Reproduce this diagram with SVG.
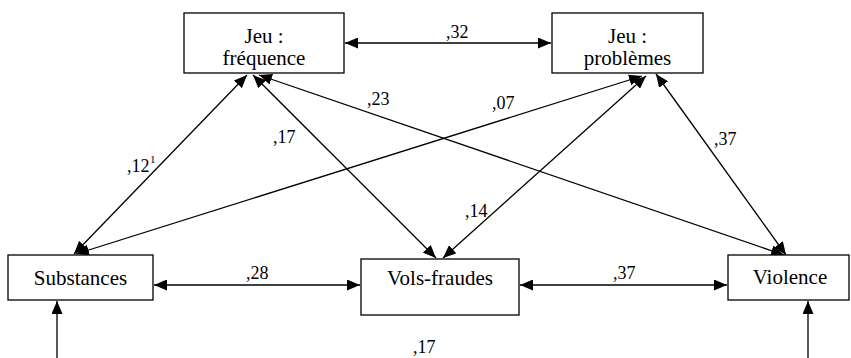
<svg xmlns="http://www.w3.org/2000/svg" width="851" height="358" viewBox="0 0 851 358">
<style>
rect.n{fill:#fff;stroke:#000;stroke-width:1.3}
text{font-family:"Liberation Serif","DejaVu Serif",serif}
.t{font-size:21px;fill:#000;text-anchor:middle}
.l{font-size:18px;fill:#000}
.s{font-size:11px;fill:#000}
line{stroke:#000;stroke-width:1.3}
</style>
<defs>
<marker id="ah" markerUnits="userSpaceOnUse" markerWidth="13" markerHeight="11" refX="13" refY="5.5" orient="auto-start-reverse" viewBox="0 0 13 11">
<path d="M0,0 L13,5.5 L0,11 z" fill="#000"/>
</marker>
</defs>
<g id="connectors">
<line x1="345" y1="43" x2="551" y2="43" marker-start="url(#ah)" marker-end="url(#ah)"/>
<line x1="154" y1="285" x2="360" y2="285" marker-start="url(#ah)" marker-end="url(#ah)"/>
<line x1="520" y1="285" x2="727" y2="285" marker-start="url(#ah)" marker-end="url(#ah)"/>
<line x1="57" y1="358" x2="57" y2="301" marker-end="url(#ah)"/>
<line x1="808" y1="358" x2="808" y2="301" marker-end="url(#ah)"/>
<line x1="247" y1="75" x2="74" y2="254" marker-start="url(#ah)" marker-end="url(#ah)"/>
<line x1="253" y1="75" x2="436" y2="258" marker-start="url(#ah)" marker-end="url(#ah)"/>
<line x1="259" y1="75" x2="784" y2="255" marker-start="url(#ah)" marker-end="url(#ah)"/>
<line x1="642" y1="76" x2="76" y2="254" marker-start="url(#ah)" marker-end="url(#ah)"/>
<line x1="646" y1="76" x2="443" y2="258" marker-start="url(#ah)" marker-end="url(#ah)"/>
<line x1="656" y1="74" x2="786" y2="255" marker-start="url(#ah)" marker-end="url(#ah)"/>
</g>
<g id="jeu-frequence">
<rect class="n" x="184" y="13" width="160" height="60"/>
<text class="t" x="264" y="43">Jeu :</text>
<text class="t" x="264" y="65">fréquence</text>
</g>
<g id="jeu-problemes">
<rect class="n" x="552" y="13" width="151" height="60"/>
<text class="t" x="627.5" y="43">Jeu :</text>
<text class="t" x="627.5" y="65">problèmes</text>
</g>
<g id="substances">
<rect class="n" x="8" y="255" width="145" height="45"/>
<text class="t" x="80.5" y="285">Substances</text>
</g>
<g id="vols-fraudes">
<rect class="n" x="361" y="259" width="158" height="56"/>
<text class="t" x="440" y="285">Vols-fraudes</text>
</g>
<g id="violence">
<rect class="n" x="728" y="255" width="121" height="45"/>
<text class="t" x="790" y="284">Violence</text>
</g>
<g id="labels">
<text class="l" x="446" y="38">,32</text>
<text class="l" x="127" y="172">,12</text>
<text class="s" x="150" y="163">1</text>
<text class="l" x="273" y="143">,17</text>
<text class="l" x="367" y="105">,23</text>
<text class="l" x="492" y="109">,07</text>
<text class="l" x="714" y="145">,37</text>
<text class="l" x="465" y="217">,14</text>
<text class="l" x="246" y="279">,28</text>
<text class="l" x="613" y="279">,37</text>
<text class="l" x="413" y="353">,17</text>
</g>
</svg>
